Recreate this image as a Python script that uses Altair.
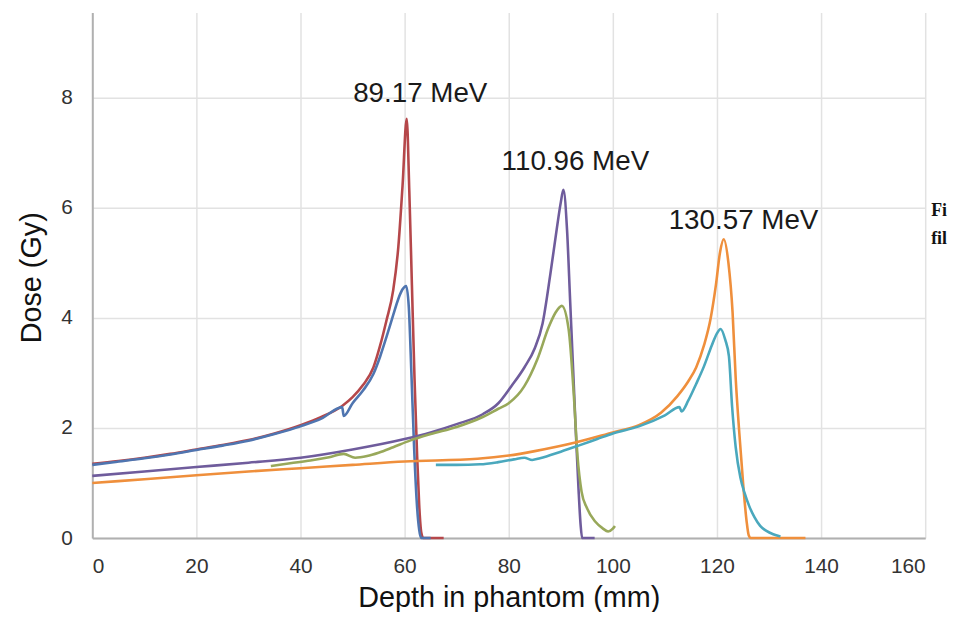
import altair as alt
import pandas as pd

# ---- data ----
red_depth = [0, 5, 10, 15, 20, 25, 30, 35, 40, 44, 48, 50, 52, 54, 55.3, 56.5, 57.8, 58.8, 59.6, 60.4,
             60.9, 61.4, 61.9, 62.4, 62.8, 63.2, 63.6, 67.5]
red_dose = [1.35, 1.40, 1.46, 1.53, 1.61, 1.69, 1.78, 1.90, 2.05, 2.20, 2.40, 2.56, 2.78, 3.10, 3.50, 3.95, 4.50, 5.3, 6.4, 7.62,
            6.3, 4.6, 2.9, 1.5, 0.6, 0.1, 0.0, 0.0]

blue_depth = [0, 5, 10, 15, 20, 25, 30, 35, 40, 44, 48, 48.3, 50, 52, 54, 55.3, 56.5, 57.8, 58.8, 59.6, 60.3,
              60.8, 61.3, 61.8, 62.3, 62.8, 63.2, 65]
blue_dose = [1.33, 1.39, 1.45, 1.52, 1.60, 1.68, 1.77, 1.89, 2.03, 2.17, 2.38, 2.22, 2.45, 2.68, 2.98, 3.30, 3.65, 4.05, 4.35, 4.52, 4.58,
             4.2, 3.0, 1.7, 0.7, 0.15, 0.0, 0.0]

purple_depth = [0, 10, 20, 30, 40, 50, 60, 65, 70, 75, 78, 80.5, 83, 85, 86.5, 88, 89.2, 90, 90.5,
                91.2, 91.8, 92.4, 92.9, 93.4, 93.8, 94.1, 96.5]
purple_dose = [1.13, 1.21, 1.29, 1.37, 1.46, 1.61, 1.80, 1.92, 2.07, 2.25, 2.45, 2.76, 3.10, 3.45, 3.90, 4.80, 5.60, 6.10, 6.33,
               5.6, 4.3, 3.0, 1.9, 0.9, 0.25, 0.0, 0.0]

olive_depth = [34.3, 38, 41.9, 45.5, 48.3, 50.5, 52.8, 55, 57.8, 61, 65, 70, 75, 78, 80, 83, 85.5, 87.7, 89, 90.2,
               91.5, 92.5, 93.2, 94, 95, 96.6, 98, 99.1, 100, 100.4]
olive_dose = [1.31, 1.36, 1.41, 1.47, 1.53, 1.46, 1.49, 1.55, 1.65, 1.77, 1.89, 2.02, 2.20, 2.35, 2.45, 2.76, 3.25, 3.84, 4.10, 4.22,
              3.80, 2.60, 1.50, 0.84, 0.55, 0.30, 0.18, 0.12, 0.17, 0.22]

orange_depth = [0, 10, 20, 30, 40, 50, 60, 74, 80, 85, 93, 100, 105, 109.3, 112.4, 114.5, 116, 117.5, 118.8, 119.8, 120.6, 121.3,
                122.2, 123.0, 123.6, 124.3, 125.1, 125.7, 126.1, 126.5, 137]
orange_dose = [1.00, 1.07, 1.14, 1.21, 1.27, 1.33, 1.39, 1.44, 1.50, 1.58, 1.74, 1.92, 2.05, 2.28, 2.58, 2.85, 3.10, 3.50, 4.00, 4.60, 5.20, 5.43,
               5.00, 4.10, 2.90, 1.90, 0.90, 0.30, 0.05, 0.0, 0.0]

teal_depth = [66, 70, 74.5, 78, 81, 83, 84.5, 86, 90, 93.4, 97, 100, 105, 110, 112.8, 113.2, 114.5, 116, 117.5, 119, 120, 120.7,
              121.6, 122.3, 122.9, 123.6, 124.5, 125.3, 126.2, 127.2, 128.3, 129.5, 130.8, 132.2]
teal_dose = [1.33, 1.33, 1.34, 1.38, 1.43, 1.46, 1.42, 1.45, 1.57, 1.68, 1.80, 1.90, 2.03, 2.23, 2.38, 2.30, 2.50, 2.80, 3.12, 3.50, 3.72, 3.80,
             3.60, 3.30, 2.40, 1.65, 1.10, 0.82, 0.58, 0.38, 0.22, 0.13, 0.07, 0.03]

series = [
    ("89.17 MeV simulation", red_depth, red_dose),
    ("89.17 MeV film", blue_depth, blue_dose),
    ("110.96 MeV simulation", purple_depth, purple_dose),
    ("110.96 MeV film", olive_depth, olive_dose),
    ("130.57 MeV simulation", orange_depth, orange_dose),
    ("130.57 MeV film", teal_depth, teal_dose),
]
series_colors = ["#b5474a", "#4f75b0", "#6f5c9c", "#98a85a", "#ef8f3c", "#4aa8bd"]

label_text = ["89.17 MeV", "110.96 MeV", "130.57 MeV"]
label_depth = [63.0, 92.8, 125.1]
label_dose = [7.92, 6.69, 5.61]

caption_text = ["Fi", "fil"]

x_ticks = [0, 20, 40, 60, 80, 100, 120, 140, 160]
y_ticks = [0, 2, 4, 6, 8]

rows = []
for i, (name, d, v) in enumerate(series):
    for k, (a, b) in enumerate(zip(d, v)):
        rows.append({"series": name, "depth": a, "dose": b, "idx": k})
df = pd.DataFrame(rows)
labels = pd.DataFrame({"text": label_text, "depth": label_depth, "dose": label_dose})

FONT = "Liberation Sans"

xscale = alt.Scale(domain=[0, 160], nice=False, zero=False)
yscale = alt.Scale(domain=[0, 9.55], nice=False)

lines = alt.Chart(df).mark_line(strokeWidth=2.6, interpolate="monotone").encode(
    x=alt.X("depth:Q", scale=xscale,
            axis=alt.Axis(values=x_ticks, format="d", title="Depth in phantom (mm)", ticks=False,
                          labelPadding=18, labelFontSize=21, labelColor="#333333",
                          titleFontSize=29, titleFontWeight="normal", titleColor="#111111",
                          titleBaseline="alphabetic", titleY=69,
                          domainColor="#b0b0b0", domainWidth=2,
                          gridColor="#e2e2e2", gridWidth=1.5)),
    y=alt.Y("dose:Q", scale=yscale,
            axis=alt.Axis(values=y_ticks, format="d", title="Dose (Gy)", ticks=False,
                          labelPadding=20, labelFontSize=21, labelColor="#333333",
                          titleFontSize=29, titleFontWeight="normal", titleColor="#111111",
                          titleAngle=-90, titleBaseline="alphabetic", titleAlign="center",
                          titleX=-52, titleY=267,
                          domainColor="#b0b0b0", domainWidth=2,
                          gridColor="#e2e2e2", gridWidth=1.5)),
    color=alt.Color("series:N", scale=alt.Scale(domain=[s[0] for s in series], range=series_colors),
                    legend=None),
    order=alt.Order("idx:Q"),
    detail="series:N",
)

texts = alt.Chart(labels).mark_text(fontSize=28, font=FONT, color="#1a1a1a",
                                    align="center", baseline="alphabetic").encode(
    x=alt.X("depth:Q", scale=xscale),
    y=alt.Y("dose:Q", scale=yscale),
    text="text:N",
)

cap1 = alt.Chart(pd.DataFrame({"text": [caption_text[0]]})).mark_text(
    fontSize=18, font="Liberation Serif", fontWeight="bold", color="#111111",
    align="left", baseline="alphabetic").encode(
    x=alt.value(846), y=alt.value(205), text="text:N")
cap2 = alt.Chart(pd.DataFrame({"text": [caption_text[1]]})).mark_text(
    fontSize=18, font="Liberation Serif", fontWeight="bold", color="#111111",
    align="left", baseline="alphabetic").encode(
    x=alt.value(846), y=alt.value(233), text="text:N")

chart = alt.layer(lines, texts, cap1, cap2).properties(
    width=840, height=530,
    padding={"left": 85, "top": 2, "right": 23, "bottom": 72},
    autosize=alt.AutoSizeParams(type="none"),
).configure(font=FONT).configure_view(stroke=None)

chart.save("out.html", embed_options={"renderer": "svg", "actions": False})
